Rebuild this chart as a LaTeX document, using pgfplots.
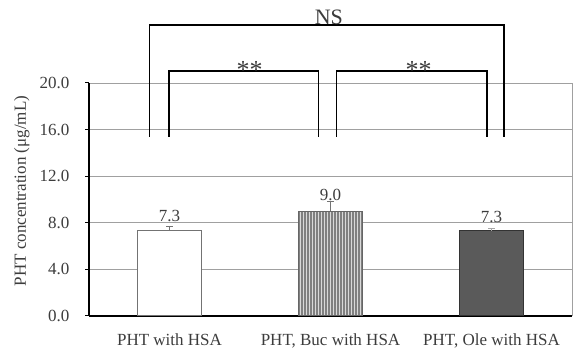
\documentclass[border=0pt]{standalone}
\usepackage{pgfplots}
\pgfplotsset{compat=1.18}
\usepackage{fontspec}
\setmainfont{Liberation Serif}
\usetikzlibrary{patterns}
\definecolor{txt}{HTML}{3C3C3C}
\definecolor{gridc}{HTML}{A0A0A0}
\definecolor{darkbar}{HTML}{5A5A5A}
\begin{document}
\begin{tikzpicture}
\begin{axis}[
  scale only axis, width=483pt, height=233pt,
  xmin=-0.5, xmax=2.5, ymin=0, ymax=20,
  clip=false,
  font=\fontsize{17}{20}\selectfont,
  axis x line*=bottom, axis y line*=left,
  axis line style={black, line width=2pt},
  tick align=outside,
  ytick={0,4,8,12,16,20},
  ymajorgrids, grid style={gridc, line width=0.8pt},
  ytick style={black, line width=1pt}, major tick length=4pt,
  xtick={0,1,2},
  xticklabels={PHT with HSA, {PHT, Buc with HSA}, {PHT, Ole with HSA}},
  xtick style={draw=none},
  extra x ticks={0.5,1.5}, extra x tick labels={},
  extra x tick style={grid=none, tick align=inside, tick style={draw=black, line width=2.5pt}, major tick length=2.5pt},
  xticklabel style={text=txt, yshift=-10pt},
  yticklabel style={text=txt, xshift=-12pt},
  /pgf/number format/.cd, fixed, fixed zerofill, precision=1, assume math mode=true, /pgfplots/.cd,
  ylabel={PHT concentration (μg/mL)},
  ylabel style={at={(axis description cs:-0.139,0.536)}, anchor=center, text=txt},
  every node near coord/.append style={anchor=base, inner sep=0pt, text=txt, font=\fontsize{17}{20}\selectfont},
]
\addplot[ybar, bar width=0.4, bar shift=0pt, fill=white, draw=black!55, line width=1pt,
  nodes near coords, every node near coord/.append style={yshift=9pt},
  error bars/.cd, y dir=plus, y explicit,
  error bar style={black!55, line width=1pt},
  error mark options={rotate=90, black!55, mark size=3.5pt, line width=1pt}]
  coordinates {(0,7.3) +- (0,0.4)};
\addplot[ybar, bar width=0.4, bar shift=0pt, fill=black!50, draw=black!60, line width=1pt,
  postaction={pattern=vertical lines, pattern color=black!15},
  nodes near coords, every node near coord/.append style={yshift=11pt},
  error bars/.cd, y dir=plus, y explicit,
  error bar style={black!55, line width=1pt},
  error mark options={rotate=90, black!55, mark size=3.5pt, line width=1pt}]
  coordinates {(1,9.0) +- (0,0.8)};
\addplot[ybar, bar width=0.4, bar shift=0pt, fill=darkbar, draw=black!80, line width=1pt,
  nodes near coords, every node near coord/.append style={yshift=8pt},
  error bars/.cd, y dir=plus, y explicit,
  error bar style={black!35, line width=1pt},
  error mark options={rotate=90, black!35, mark size=3.5pt, line width=1pt}]
  coordinates {(2,7.3) +- (0,0.2)};
% right border
\draw[gridc, line width=1pt] (rel axis cs:1,0) -- (rel axis cs:1,1);
% significance brackets
\draw[black, line width=1.8pt] (axis cs:-0.124,15.4) |- (axis cs:2.08,25.0) -- (axis cs:2.08,15.4);
\draw[black, line width=1.8pt] (axis cs:-0.005,15.4) |- (axis cs:0.925,21.06) -- (axis cs:0.925,15.4);
\draw[black, line width=1.8pt] (axis cs:1.037,15.4) |- (axis cs:1.97,21.06) -- (axis cs:1.97,15.4);
\node[anchor=base, inner sep=0pt, text=txt, font=\fontsize{22}{26}\selectfont] at (axis cs:0.99,25.0) {NS};
\node[anchor=base, inner sep=0pt, text=txt, font=\fontsize{26}{30}\selectfont] at (axis cs:0.497,20.4) {**};
\node[anchor=base, inner sep=0pt, text=txt, font=\fontsize{26}{30}\selectfont] at (axis cs:1.547,20.4) {**};
\path (rel axis cs:-0.1843,-0.1717) rectangle (rel axis cs:1.0124,1.3562);
\end{axis}
\end{tikzpicture}
\end{document}
